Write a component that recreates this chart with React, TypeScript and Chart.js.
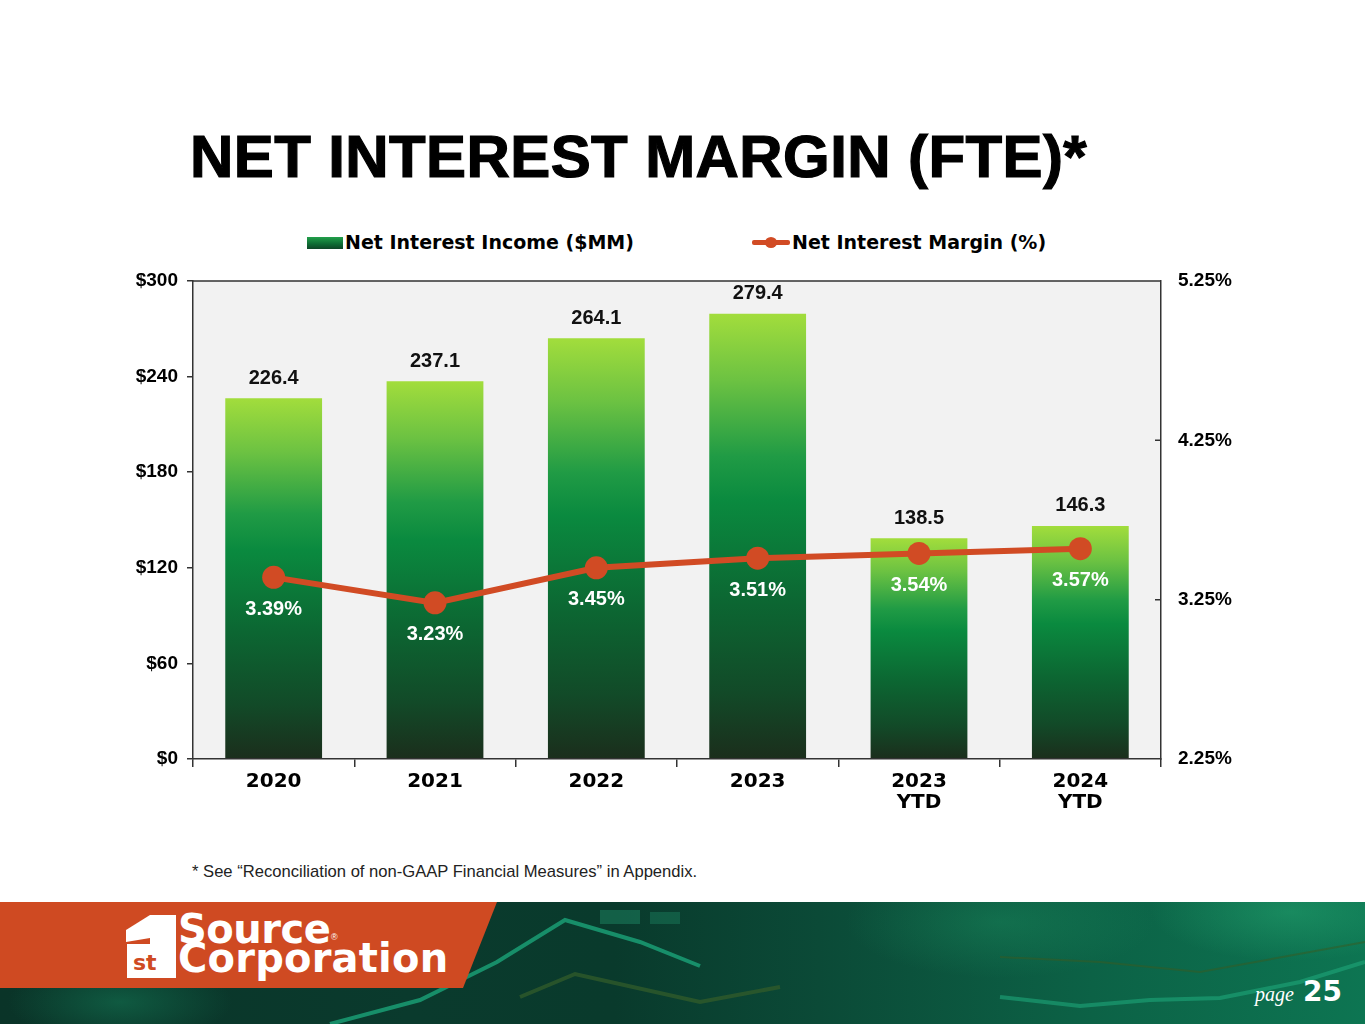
import React, { useEffect, useRef } from "react";
import { Chart, registerables } from "chart.js";

Chart.register(...registerables);

// ---- data ----
const categories: (string | string[])[] = ["2020", "2021", "2022", "2023", ["2023", "YTD"], ["2024", "YTD"]];
const netInterestIncome = [226.4, 237.1, 264.1, 279.4, 138.5, 146.3];
const netInterestMargin = [3.39, 3.23, 3.45, 3.51, 3.54, 3.57];
const leftTicks = [0, 60, 120, 180, 240, 300];
const rightTicks = [2.25, 3.25, 4.25, 5.25];
const incomeLabel = "Net Interest Income ($MM)";
const marginLabel = "Net Interest Margin (%)";

const LINE = "#d14b24";
const AXIS = "#333333";
const ARIAL = '"Liberation Sans", Arial, sans-serif';
const WIDE = '"DejaVu Sans", Verdana, sans-serif';

const barGradient = (c: any) => {
  const chart = c.chart;
  const area = chart.chartArea;
  if (!area || c.type !== "data" || !chart.scales.y) return "#0b8a40";
  const ys = chart.scales.y;
  const top = ys.getPixelForValue(c.parsed ? c.parsed.y : c.raw);
  const base = ys.getPixelForValue(0);
  if (!isFinite(top) || !isFinite(base) || base - top < 1) return "#0b8a40";
  const g = chart.ctx.createLinearGradient(0, top, 0, base);
  g.addColorStop(0, "#a2dd3c");
  g.addColorStop(0.15, "#6cc242");
  g.addColorStop(0.32, "#209b45");
  g.addColorStop(0.42, "#0a8a3f");
  g.addColorStop(0.65, "#0c6632");
  g.addColorStop(0.85, "#124a28");
  g.addColorStop(1, "#1b2e1c");
  return g;
};

const framePlugin = {
  id: "frame",
  beforeDraw(chart: any) {
    const { ctx, chartArea: a } = chart;
    ctx.save();
    ctx.fillStyle = "#f2f2f2";
    ctx.fillRect(a.left, a.top, a.right - a.left, a.bottom - a.top);
    ctx.restore();
  },
  beforeDatasetsDraw(chart: any) {
    const { ctx, chartArea: a } = chart;
    ctx.save();
    ctx.strokeStyle = AXIS;
    ctx.lineWidth = 1.5;
    ctx.beginPath();
    ctx.moveTo(a.left, a.top);
    ctx.lineTo(a.right, a.top);
    // inward ticks on right axis
    const s = chart.scales.y2;
    s.ticks.forEach((t: any, i: number) => {
      if (i === 0 || i === s.ticks.length - 1) return;
      const y = s.getPixelForValue(t.value);
      ctx.moveTo(a.right - 6, y);
      ctx.lineTo(a.right, y);
    });
    ctx.stroke();
    ctx.restore();
  },
};

const labelPlugin = {
  id: "valueLabels",
  afterDatasetsDraw(chart: any) {
    const ctx = chart.ctx;
    chart.data.datasets.forEach((ds: any, di: number) => {
      const meta = chart.getDatasetMeta(di);
      meta.data.forEach((el: any, i: number) => {
        const v = ds.data[i];
        ctx.save();
        ctx.textAlign = "center";
        ctx.textBaseline = "middle";
        ctx.font = `bold 20px ${ARIAL}`;
        if (meta.type === "bar") {
          ctx.fillStyle = "#111111";
          ctx.fillText(v.toFixed(1), el.x, el.y - 20);
        } else {
          ctx.fillStyle = "#ffffff";
          ctx.fillText(v.toFixed(2) + "%", el.x, el.y + 32);
        }
        ctx.restore();
      });
    });
  },
};

export default function App() {
  const canvasRef = useRef<HTMLCanvasElement>(null);

  useEffect(() => {
    const canvas = canvasRef.current;
    if (!canvas) return;
    const chart = new Chart(canvas, {
      data: {
        labels: categories as any,
        datasets: [
          {
            type: "line",
            label: marginLabel,
            data: netInterestMargin,
            yAxisID: "y2",
            borderColor: LINE,
            backgroundColor: LINE,
            borderWidth: 6,
            pointRadius: 11.5,
            pointHoverRadius: 11.5,
            pointBackgroundColor: LINE,
            pointBorderWidth: 0,
            tension: 0,
            order: 0,
          } as any,
          {
            type: "bar",
            label: incomeLabel,
            data: netInterestIncome,
            yAxisID: "y",
            backgroundColor: barGradient,
            categoryPercentage: 1,
            barPercentage: 0.6,
            order: 1,
          } as any,
        ],
      },
      options: {
        animation: false,
        responsive: true,
        maintainAspectRatio: false,
        layout: { padding: { top: 281, left: 0, right: 0, bottom: 0 } },
        plugins: {
          legend: { display: false },
          tooltip: { enabled: false },
        },
        scales: {
          x: {
            grid: {
              display: true,
              drawOnChartArea: false,
              drawTicks: true,
              tickLength: 8,
              color: AXIS,
              lineWidth: 1.5,
              offset: true,
            },
            border: { display: true, color: AXIS, width: 1.5, z: 1 } as any,
            ticks: {
              color: "#000000",
              font: { family: WIDE, weight: "bold", size: 20, lineHeight: 1.05 },
              padding: 4,
              maxRotation: 0,
              autoSkip: false,
            },
            afterFit: (s: any) => {
              s.height = 101;
            },
          },
          y: {
            position: "left",
            min: 0,
            max: 300,
            afterBuildTicks: (s: any) => {
              s.ticks = leftTicks.map((v) => ({ value: v }));
            },
            ticks: {
              callback: (v: any) => "$" + v,
              color: "#000000",
              font: { family: ARIAL, weight: "bold", size: 19 },
              padding: 9,
            },
            grid: {
              drawOnChartArea: false,
              drawTicks: true,
              tickLength: 6,
              color: AXIS,
              lineWidth: 1.5,
            },
            border: { display: true, color: AXIS, width: 1.5 },
            afterFit: (s: any) => {
              s.width = 193;
            },
          },
          y2: {
            position: "right",
            min: 2.25,
            max: 5.25,
            afterBuildTicks: (s: any) => {
              s.ticks = rightTicks.map((v) => ({ value: v }));
            },
            ticks: {
              callback: (v: any) => Number(v).toFixed(2) + "%",
              color: "#000000",
              font: { family: ARIAL, weight: "bold", size: 19 },
              padding: 17,
            },
            grid: { display: false, drawTicks: false },
            border: { display: true, color: AXIS, width: 1.5 },
            afterFit: (s: any) => {
              s.width = 193;
            },
          },
        },
      } as any,
      plugins: [framePlugin, labelPlugin],
    });
    return () => chart.destroy();
  }, []);

  const abs = (o: React.CSSProperties): React.CSSProperties => ({ position: "absolute", ...o });

  return (
    <div style={abs({ left: 0, top: 0, width: 1365, height: 1024, background: "#ffffff", overflow: "hidden", fontFamily: ARIAL })}>
      {/* title */}
      <div
        style={abs({
          left: 190,
          top: 127,
          fontFamily: ARIAL,
          fontWeight: 700,
          fontSize: 60,
          lineHeight: "60px",
          color: "#000",
          whiteSpace: "nowrap",
          letterSpacing: 0.4,
          WebkitTextStroke: "1.2px #000",
        } as any)}
      >
        NET INTEREST MARGIN (FTE)*
      </div>

      {/* legend */}
      <div
        style={abs({
          left: 307,
          top: 237,
          width: 36,
          height: 12,
          background: "linear-gradient(180deg, #22a04a 0%, #0e6a33 60%, #0e4526 100%)",
        })}
      />
      <div style={abs({ left: 345, top: 230, fontFamily: WIDE, fontWeight: 700, fontSize: 19, lineHeight: "24px", color: "#000", whiteSpace: "nowrap" })}>
        {incomeLabel}
      </div>
      <div style={abs({ left: 752, top: 240, width: 38, height: 5, background: LINE, borderRadius: 2 })} />
      <div style={abs({ left: 765, top: 237, width: 12, height: 11, background: LINE, borderRadius: "50%" })} />
      <div style={abs({ left: 792, top: 230, fontFamily: WIDE, fontWeight: 700, fontSize: 19, lineHeight: "24px", color: "#000", whiteSpace: "nowrap" })}>
        {marginLabel}
      </div>

      {/* chart */}
      <div style={abs({ left: 0, top: 0, width: 1354, height: 860 })}>
        <canvas ref={canvasRef} />
      </div>

      {/* footnote */}
      <div style={abs({ left: 192, top: 862, fontFamily: ARIAL, fontSize: 16.6, lineHeight: "20px", color: "#222", whiteSpace: "nowrap" })}>
        * See “Reconciliation of non-GAAP Financial Measures” in Appendix.
      </div>

      {/* footer */}
      <div
        style={abs({
          left: 0,
          top: 902,
          width: 1365,
          height: 122,
          background:
            "radial-gradient(ellipse 160px 60px at 120px 100px, rgba(20,120,85,0.55), rgba(0,0,0,0) 70%)," +
            "radial-gradient(ellipse 220px 80px at 1000px 20px, rgba(30,150,100,0.35), rgba(0,0,0,0) 70%)," +
            "radial-gradient(ellipse 200px 70px at 1290px 10px, rgba(40,170,115,0.45), rgba(0,0,0,0) 70%)," +
            "linear-gradient(90deg, #0a3428 0%, #0a3a2d 30%, #093a2c 45%, #0b4a37 60%, #0c6246 80%, #0d7552 100%)",
        })}
      >
        <svg width={1365} height={122} style={{ position: "absolute", left: 0, top: 0 }}>
          <polyline points="330,122 420,98 497,60 565,18 640,40 700,64" fill="none" stroke="#1a9d74" strokeWidth={4} opacity={0.85} />
          <polyline points="520,95 575,72 700,100 780,85" fill="none" stroke="#2f5a2a" strokeWidth={4} opacity={0.8} />
          <polyline points="1000,95 1080,104 1150,98 1220,96 1300,80 1365,60" fill="none" stroke="#1ea67a" strokeWidth={4} opacity={0.6} />
          <polyline points="1000,55 1100,60 1200,70 1365,40" fill="none" stroke="#3a5a20" strokeWidth={2} opacity={0.5} />
          <rect x={600} y={8} width={40} height={14} fill="#1a7a5a" opacity={0.6} />
          <rect x={650} y={10} width={30} height={12} fill="#1a7a5a" opacity={0.5} />
          <polygon points="0,0 497,0 463,86 0,86" fill="#cf4a22" />
          {/* logo mark */}
          <polygon points="150,13 176,13 176,76 127,76 127,42 150,42" fill="#ffffff" />
          <polygon points="126,28 150,13 150,36 126,40" fill="#ffffff" />
          <text x={133} y={68} fontFamily={WIDE} fontWeight={700} fontSize={22} fill="#cf4a22">
            st
          </text>
        </svg>
        <div style={abs({ left: 178, top: 7, fontFamily: WIDE, fontWeight: 700, fontSize: 40, lineHeight: "40px", color: "#fff", whiteSpace: "nowrap", letterSpacing: -0.5 })}>
          Source
        </div>
        <div style={abs({ left: 331, top: 30, fontFamily: ARIAL, fontSize: 9, lineHeight: "10px", color: "#fff" })}>®</div>
        <div style={abs({ left: 178, top: 36, fontFamily: WIDE, fontWeight: 700, fontSize: 40, lineHeight: "40px", color: "#fff", whiteSpace: "nowrap", letterSpacing: 0.2 })}>
          Corporation
        </div>
        <div style={abs({ left: 1255, top: 80, fontFamily: '"Liberation Serif", serif', fontStyle: "italic", fontSize: 20, lineHeight: "24px", color: "#fff" })}>
          page
        </div>
        <div style={abs({ left: 1303, top: 74, fontFamily: WIDE, fontWeight: 700, fontSize: 28, lineHeight: "32px", color: "#fff" })}>25</div>
      </div>
    </div>
  );
}
